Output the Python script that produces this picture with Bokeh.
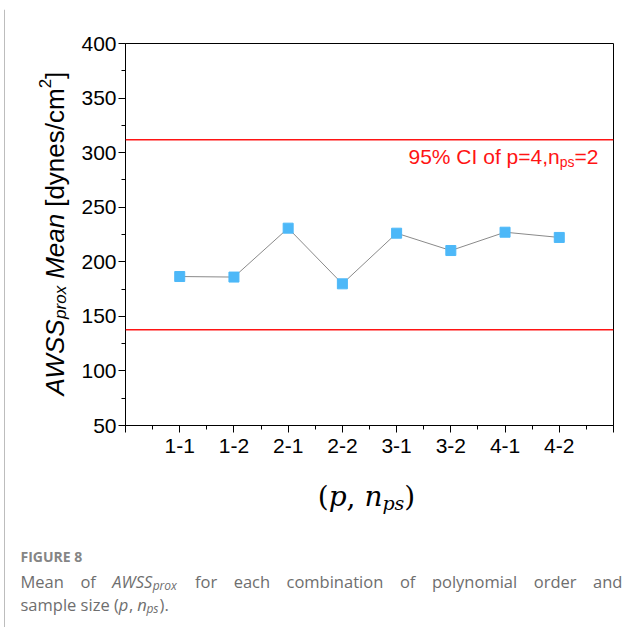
import math
from bokeh.plotting import figure
from bokeh.layouts import column, row
from bokeh.models import Span, Label, FixedTicker, Range1d, ColumnDataSource, BoxAnnotation
from bokeh.embed import file_html
from bokeh.resources import INLINE

# ---------------- data ----------------
combos = ["1-1", "1-2", "2-1", "2-2", "3-1", "3-2", "4-1", "4-2"]
awss_mean = [186.5, 186.0, 230.8, 179.8, 226.2, 210.3, 227.1, 222.3]
ci_low = 137.7
ci_high = 311.8
y_ticks = [50, 100, 150, 200, 250, 300, 350, 400]
y_minor = [75, 125, 175, 225, 275, 325, 375]

# ---------------- text metrics (approx) ----------------
ARIAL = {' ': .278, '%': .889, '(': .333, ')': .333, ',': .278, '-': .333, '.': .278,
         '/': .278, '=': .584, '[': .278, ']': .278, 'A': .667, 'C': .722, 'I': .278,
         'M': .833, 'S': .667, 'W': .944, 'a': .556, 'c': .5, 'd': .556, 'e': .556,
         'f': .278, 'm': .833, 'n': .556, 'o': .556, 'p': .556, 'r': .333, 's': .5,
         'x': .5, 'y': .5}
for d in "0123456789":
    ARIAL[d] = .556
OPEN = {' ': .260, '(': .295, ')': .295, ',': .245, '.': .266, 'A': .633, 'M': .903,
        'S': .544, 'W': .962, 'a': .556, 'b': .614, 'c': .476, 'd': .614, 'e': .561,
        'f': .339, 'h': .614, 'i': .253, 'l': .253, 'm': .930, 'n': .614, 'o': .604,
        'p': .614, 'r': .408, 's': .477, 't': .361, 'x': .531, 'y': .500, 'z': .462}


def tw(text, size, table):
    return sum(table.get(ch, .55) for ch in text) * size


def blank(w, h, fill="white"):
    f = figure(width=w, height=h, output_backend="svg", toolbar_location=None,
               x_axis_location=None, y_axis_location=None, min_border=0, title=None,
               x_range=Range1d(0, w), y_range=Range1d(0, h))
    f.outline_line_color = None
    f.xgrid.visible = False
    f.ygrid.visible = False
    f.background_fill_color = fill
    f.border_fill_color = fill
    return f


TY = -7   # observed vertical offset of "alphabetic" anchored labels


def make_lab(fig, ox, oy):
    """ox, oy: page px of the frame's bottom-left corner"""
    def lab(text, rx, ry, size, font="Liberation Sans", style="normal", color="black",
            angle=0.0, fix=True):
        ry2 = ry + (TY if fix else 0)
        fig.add_layout(Label(x=rx - ox, y=oy - ry2, x_units="screen", y_units="screen",
                             text=text, text_font=font, text_font_style=style,
                             text_font_size=f"{size}px", text_color=color, angle=angle,
                             text_align="left", text_baseline="alphabetic"))
    return lab


# ---------------- page geometry (page px, origin at top-left) ----------------
X0, Y0 = 5, 9            # inside the grey frame lines (x=4, y=8)
RIGHT, BOTTOM = 642, 627
MAIN_X = 78
MAIN_B = 466
FL, FT, FR, FB = 124, 43, 613, 425
GREYLINE = "#7a7a7a"

# ---------------- main chart ----------------
p = figure(width=RIGHT - MAIN_X, height=MAIN_B - Y0, output_backend="svg",
           toolbar_location=None, x_range=Range1d(0, 9), y_range=Range1d(50, 400),
           title=None, min_border_left=FL - MAIN_X, min_border_right=RIGHT - FR,
           min_border_top=FT - Y0, min_border_bottom=MAIN_B - FB)
p.background_fill_color = "white"
p.border_fill_color = "white"
p.outline_line_color = "black"
p.outline_line_width = 1
p.outline_line_alpha = 1
p.xgrid.visible = False
p.ygrid.visible = False

for ax in (p.xaxis[0], p.yaxis[0]):
    ax.axis_line_color = "black"
    ax.axis_line_width = 1
    ax.major_tick_line_color = "black"
    ax.minor_tick_line_color = "black"
    ax.major_tick_in = 0
    ax.major_tick_out = 7
    ax.minor_tick_in = 0
    ax.minor_tick_out = 4
    ax.major_label_text_font = "Liberation Sans"
    ax.major_label_text_font_size = "21px"
    ax.major_label_text_color = "black"

p.xaxis.ticker = FixedTicker(ticks=list(range(0, 10)), minor_ticks=[i + 0.5 for i in range(9)])
overrides = {0: "", 9: ""}
for i, c in enumerate(combos):
    overrides[i + 1] = c
p.xaxis.major_label_overrides = overrides
p.xaxis.major_label_standoff = 6
p.yaxis.ticker = FixedTicker(ticks=y_ticks, minor_ticks=y_minor)
p.yaxis.major_label_standoff = 2

RED = "#ff1414"
for loc in (ci_high, ci_low):
    p.add_layout(Span(location=loc, dimension="width", line_color=RED, line_width=1.5))

src = ColumnDataSource(dict(x=list(range(1, len(combos) + 1)), y=awss_mean, combo=combos))
p.line("x", "y", source=src, line_color="#8a8a8a", line_width=1)
p.scatter("x", "y", source=src, marker="square", size=10, fill_color="#4DB8F8",
          line_color="#4DB8F8")

lab = make_lab(p, FL, FB)
x0, base = 407, 163
t1 = "95% CI of p=4,n"
lab(t1, x0, base, 21, color=RED)
x1 = x0 + tw(t1, 21, ARIAL)
lab("ps", x1, base + 5, 14, color=RED)
x2 = x1 + tw("ps", 14, ARIAL)
lab("=2", x2, base, 21, color=RED)

# ---------------- y axis title panel ----------------
ylab = blank(MAIN_X - X0, MAIN_B - Y0)
lab = make_lab(ylab, X0, MAIN_B)
RDX, RDY = -13, 38        # compensation for rotated-label anchoring
bx = 67
yy = 398
ang = math.pi / 2
pieces = [("AWSS", 26, "italic", 0, 0), ("prox", 17, "italic", 6, 0),
          ("Mean", 26, "italic", 0, 7), ("[dynes/cm", 26, "normal", 0, 7),
          ("2", 17, "normal", -10, 0), ("]", 26, "normal", 0, 0)]
for txt, sz, st, dx, gap in pieces:
    yy -= gap
    lab(txt, bx + dx + RDX, yy + RDY, sz, style=st, angle=ang, fix=False)
    yy -= tw(txt, sz, ARIAL)

# ---------------- bottom panel: x title + caption ----------------
bot = blank(RIGHT - X0, BOTTOM - MAIN_B)
lab = make_lab(bot, X0, BOTTOM)

SERIF = "DejaVu Serif"
SW = {'(': .390, ')': .390, ',': .318, ' ': .318, 'p': .640, 'n': .644, 's': .513}
xs = [("(", 28, "normal", 0), ("p", 28, "italic", 0), (",", 28, "normal", 0),
      (" ", 28, "normal", 0), ("n", 28, "italic", 0), ("ps", 19, "italic", 6),
      (")", 28, "normal", 0)]
total = sum(tw(t, s, SW) for t, s, _, _ in xs)
cx = 366 - total / 2
for txt, sz, st, dy in xs:
    if txt.strip():
        lab(txt, cx, 503 + dy, sz, font=SERIF, style=st)
    cx += tw(txt, sz, SW)

GREY = "#6e6e6e"
lab("FIGURE 8", 20, 563, 14, font="Open Sans", style="bold", color="#858585")

CS = 16.5
line1 = [("Mean", "normal", 0, CS), ("of", "normal", 0, CS), ("AWSS", "italic", 0, CS),
         ("prox", "italic", 4, 12), ("for", "normal", 0, CS), ("each", "normal", 0, CS),
         ("combination", "normal", 0, CS), ("of", "normal", 0, CS),
         ("polynomial", "normal", 0, CS), ("order", "normal", 0, CS), ("and", "normal", 0, CS)]
glue = {3: -4}
natural = sum(tw(t, s, OPEN) for t, _, _, s in line1) + sum(glue.values())
nspaces = len(line1) - 1 - len(glue)
space = (622 - 20 - natural) / nspaces
cx = 20
for i, (t, st, dy, s) in enumerate(line1):
    if i in glue:
        cx += glue[i]
    elif i > 0:
        cx += space
    lab(t, cx, 588 + dy, s, font="Open Sans", style=st, color=GREY)
    cx += tw(t, s, OPEN)

line2 = [("sample size (", "normal", 0, CS, 0), ("p", "italic", 0, CS, 0),
         (",", "normal", 0, CS, 0), ("n", "italic", 0, CS, tw(" ", CS, OPEN)),
         ("ps", "italic", 4, 12, -1), (").", "normal", 0, CS, 0)]
cx = 20
for t, st, dy, s, pre in line2:
    cx += pre
    lab(t, cx, 611 + dy, s, font="Open Sans", style=st, color=GREY)
    cx += tw(t, s, OPEN)

# ---------------- assemble with thin grey frame lines ----------------
top_pad = blank(RIGHT, Y0)                       # page rows 0..8
top_pad.add_layout(BoxAnnotation(left=4, right=RIGHT, bottom=0, top=1,
                                 fill_color=GREYLINE, fill_alpha=1.0, line_color=None))
left_pad = blank(X0, BOTTOM - Y0)                # page cols 0..4
left_pad.segment(x0=[4.5], y0=[0], x1=[4.5], y1=[BOTTOM - Y0], line_color=GREYLINE,
                 line_width=1)
inner = column(row(ylab, p), bot)
layout = column(top_pad, row(left_pad, inner))
open("out.html", "w").write(file_html(layout, INLINE))
